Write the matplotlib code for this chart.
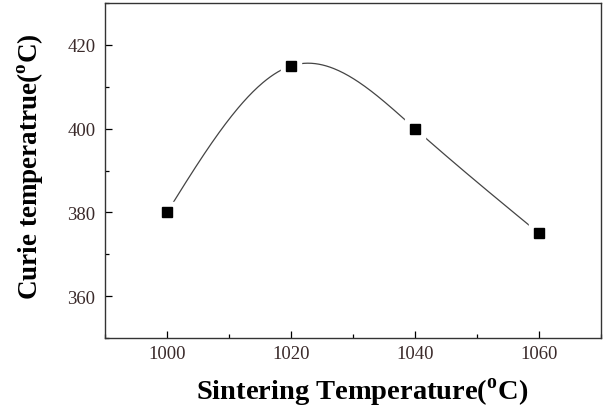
import numpy as np
import matplotlib
matplotlib.use("Agg")
import matplotlib.pyplot as plt
from matplotlib.ticker import MultipleLocator

plt.rcParams['font.family'] = ['Liberation Serif', 'DejaVu Serif']
plt.rcParams['mathtext.fontset'] = 'custom'
plt.rcParams['mathtext.rm'] = 'Liberation Serif'
plt.rcParams['mathtext.bf'] = 'Liberation Serif:bold'

# data
sinter_temp = [1000, 1020, 1040, 1060]
curie_temp = [380, 415, 400, 375]


def natural_spline(x, y, n=300):
    # plain natural cubic spline through the measured points
    x = np.asarray(x, float)
    y = np.asarray(y, float)
    k = len(x)
    h = np.diff(x)
    A = np.zeros((k, k))
    b = np.zeros(k)
    A[0, 0] = A[-1, -1] = 1
    for i in range(1, k - 1):
        A[i, i - 1] = h[i - 1]
        A[i, i] = 2 * (h[i - 1] + h[i])
        A[i, i + 1] = h[i]
        b[i] = 6 * ((y[i + 1] - y[i]) / h[i] - (y[i] - y[i - 1]) / h[i - 1])
    M = np.linalg.solve(A, b)
    xs = np.linspace(x[0], x[-1], n)
    idx = np.clip(np.searchsorted(x, xs) - 1, 0, k - 2)
    x0, x1 = x[idx], x[idx + 1]
    hh = x1 - x0
    ys = (M[idx] * (x1 - xs) ** 3 / (6 * hh) + M[idx + 1] * (xs - x0) ** 3 / (6 * hh)
          + (y[idx] / hh - M[idx] * hh / 6) * (x1 - xs)
          + (y[idx + 1] / hh - M[idx + 1] * hh / 6) * (xs - x0))
    return xs, ys


fig = plt.figure(figsize=(6.05, 4.10), dpi=100)
ax = fig.add_axes([0.1736, 0.1732, 0.8198, 0.8168])

xs, ys = natural_spline(sinter_temp, curie_temp)
ax.plot(xs, ys, color='#444444', lw=0.9, zorder=2)
# white squares make the gap between line and symbol
ax.plot(sinter_temp, curie_temp, 's', ms=14, color='white', zorder=3)
ax.plot(sinter_temp, curie_temp, 's', ms=6.5, color='black', zorder=4)

ax.set_xlim(990, 1070)
ax.set_ylim(350, 430)
ax.xaxis.set_major_locator(MultipleLocator(20))
ax.xaxis.set_minor_locator(MultipleLocator(10))
ax.yaxis.set_major_locator(MultipleLocator(20))
ax.yaxis.set_minor_locator(MultipleLocator(10))
ax.tick_params(which='both', direction='in', top=False, right=False,
               labelsize=13.5, labelcolor='#3a2a2a', width=0.9)
ax.tick_params(which='major', length=5)
ax.tick_params(which='minor', length=3)
ax.tick_params(axis='x', which='major', pad=5)
ax.tick_params(axis='y', which='major', pad=7)
for s in ax.spines.values():
    s.set_linewidth(1.0)
    s.set_color('#333333')

ax.set_xlabel(r'Sintering Temperature($^{\mathbf{o}}$C)', fontsize=20.5,
              fontweight='bold')
ax.set_ylabel(r'Curie temperatrue($^{\mathbf{o}}$C)', fontsize=19.5,
              fontweight='bold')
ax.xaxis.set_label_coords(0.519, -0.112)
ax.yaxis.set_label_coords(-0.121, 0.515)

fig.savefig('out.png', dpi=100)
